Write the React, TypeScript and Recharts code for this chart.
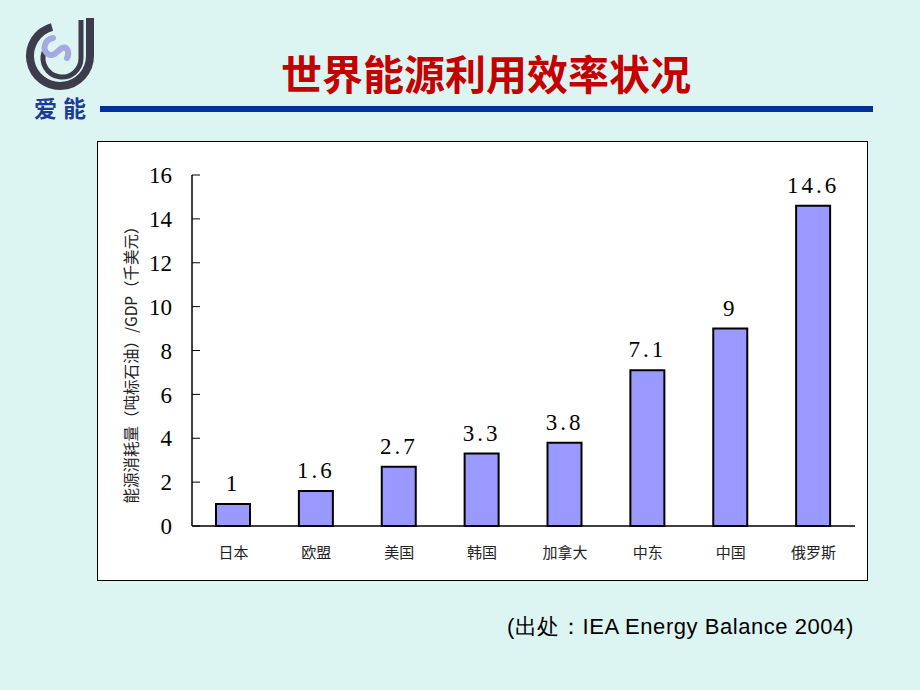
import React from 'react'
import { BarChart, Bar, XAxis, YAxis, LabelList } from 'recharts'

const countries = ['日本', '欧盟', '美国', '韩国', '加拿大', '中东', '中国', '俄罗斯']
const intensity = [1, 1.6, 2.7, 3.3, 3.8, 7.1, 9, 14.6]
const yTicks = [0, 2, 4, 6, 8, 10, 12, 14, 16]
const boundaryTicks = [0, 1, 2, 3, 4, 5, 6, 7, 8]

const TITLE = '世界能源利用效率状况'
const Y_LABEL = '能源消耗量（吨标石油）/GDP（千美元）'
const SOURCE = '(出处：IEA Energy Balance 2004)'

const chartData = countries.map((name, i) => ({ name, value: intensity[i] }))

const SERIF = '"Liberation Serif", "Times New Roman", serif'
const CJK = '"Noto Sans CJK SC", "Noto Sans", sans-serif'

function YLabel({ viewBox }: { viewBox?: { x: number; y: number; width: number; height: number } }) {
  if (!viewBox) return null
  const cx = 32
  const cy = 219
  return (
    <text
      x={cx}
      y={cy}
      transform={`rotate(-90, ${cx}, ${cy})`}
      textAnchor="middle"
      dominantBaseline="central"
      fontSize={15.5}
      fill="#222"
      fontFamily={CJK}
    >
      {Y_LABEL}
    </text>
  )
}

function Logo() {
  return (
    <svg width={100} height={125} style={{ position: 'absolute', left: 0, top: 0 }}>
      {/* outer ring */}
      <path d="M 90 18 L 90 56 A 30 30 0 1 1 52 27" fill="none" stroke="#3c3c4c" strokeWidth={8} />
      {/* inner ring */}
      <path d="M 81 20 L 81 58 A 19 19 0 1 1 44 52" fill="none" stroke="#3c3c4c" strokeWidth={5} />
      {/* light blue swirl */}
      <path
        d="M 53 38 C 44 40 42 50 48 54 C 54 58 58 50 62 48 C 67 46 70 52 67 58"
        fill="none"
        stroke="#a4a9e0"
        strokeWidth={6}
        strokeLinecap="round"
      />
      <text x={34} y={117} fontSize={23} fontWeight="bold" fill="#1c3c94" fontFamily={CJK} letterSpacing={6}>
        爱能
      </text>
    </svg>
  )
}

export default function App() {
  return (
    <div
      style={{
        position: 'absolute',
        left: 0,
        top: 0,
        width: 920,
        height: 690,
        background: '#ddf5f2',
        overflow: 'hidden',
      }}
    >
      <Logo />
      <div
        style={{
          position: 'absolute',
          left: 0,
          width: 972,
          top: 44,
          textAlign: 'center',
          fontFamily: CJK,
          fontWeight: 'bold',
          fontSize: 41,
          lineHeight: '56px',
          color: '#c40000',
        }}
      >
        {TITLE}
      </div>
      <div style={{ position: 'absolute', left: 100, top: 106, width: 773, height: 6, background: '#003399' }} />

      <div
        style={{
          position: 'absolute',
          left: 97,
          top: 141,
          width: 771,
          height: 440,
          boxSizing: 'border-box',
          border: '1px solid #000',
          background: '#fff',
        }}
      >
        <BarChart
          width={769}
          height={438}
          data={chartData}
          margin={{ top: 33, right: 12, bottom: 0, left: 0 }}
          barSize={34}
        >
          <XAxis
            xAxisId="bounds"
            type="number"
            domain={[0, 8]}
            ticks={boundaryTicks}
            height={0}
            tick={false}
            axisLine={false}
            tickSize={-4}
            tickLine={{ stroke: '#000', strokeWidth: 1 }}
          />
          <XAxis
            dataKey="name"
            height={54}
            tickLine={false}
            tickSize={6}
            tickMargin={15}
            axisLine={{ stroke: '#000', strokeWidth: 1.5 }}
            tick={{ fontSize: 15, fill: '#222', fontFamily: CJK }}
            interval={0}
          />
          <YAxis
            width={94}
            domain={[0, 16]}
            ticks={yTicks}
            tickSize={-8}
            tickMargin={28}
            axisLine={{ stroke: '#000', strokeWidth: 1.5 }}
            tickLine={{ stroke: '#000', strokeWidth: 1 }}
            tick={{ fontSize: 23, fill: '#000', fontFamily: SERIF }}
            label={{ content: <YLabel /> }}
          />
          <Bar dataKey="value" fill="#9999ff" stroke="#000" strokeWidth={2} isAnimationActive={false}>
            <LabelList
              dataKey="value"
              position="top"
              offset={13}
              style={{ fontSize: 23, fill: '#000', fontFamily: SERIF, letterSpacing: 3 }}
            />
          </Bar>
        </BarChart>
      </div>

      <div
        style={{
          position: 'absolute',
          left: 507,
          top: 612,
          fontFamily: '"Liberation Sans", Arial, sans-serif',
          fontSize: 22,
          lineHeight: '30px',
          letterSpacing: 0.55,
          color: '#000',
          whiteSpace: 'nowrap',
        }}
      >
        {SOURCE}
      </div>
    </div>
  )
}
